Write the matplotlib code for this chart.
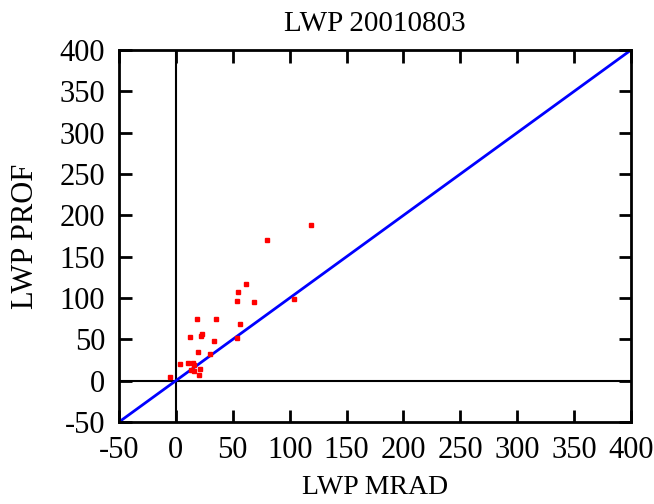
import numpy as np
import matplotlib.pyplot as plt

plt.rcParams['font.family'] = ['Liberation Serif', 'DejaVu Serif']
plt.rcParams['font.size'] = 22
plt.rcParams['axes.unicode_minus'] = False

# LWP from microwave radiometer vs profiler
mrad = [118.9, 79.7, 61.8, 54.2, 53.7, 68.9, 104.2, 18.9, 34.9, 56.3,
        12.1, 22.7, 22.4, 33.2, 53.9, 19.4, 30.0, 3.9, 11.0, 15.1,
        16.0, 13.3, 16.2, 21.5, 20.6, -5.1]
prof = [188.0, 170.0, 116.6, 106.9, 96.4, 95.2, 99.2, 74.2, 74.6, 69.0,
        52.9, 56.1, 54.5, 48.4, 51.3, 35.1, 31.9, 19.8, 21.4, 21.0,
        19.4, 12.9, 11.4, 14.2, 7.3, 4.1]
lim = [-50, 400]
ticks = np.arange(-50, 401, 50)

fig = plt.figure(figsize=(6.54, 5.04), dpi=100)
ax = fig.add_axes([119/654, 82/504, 512/654, 372/504])

ax.axhline(0, color='black', lw=1.5)
ax.axvline(0, color='black', lw=1.5)
ax.plot(lim, lim, color='blue', lw=2)
ax.plot(mrad, prof, 's', color='red', ms=3, mec='red')

ax.set_xlim(lim)
ax.set_ylim(lim)
ax.set_xticks(ticks)
ax.set_yticks(ticks)
ax.tick_params(direction='in', length=9, width=2, top=True, right=True, pad=10)
for s in ax.spines.values():
    s.set_linewidth(2)

ax.set_title('LWP 20010803', fontsize=21, pad=14)
ax.set_xlabel('LWP MRAD', fontsize=20, labelpad=7)
ax.set_ylabel('LWP PROF', fontsize=22, labelpad=14)

fig.savefig('out.png', dpi=100)
